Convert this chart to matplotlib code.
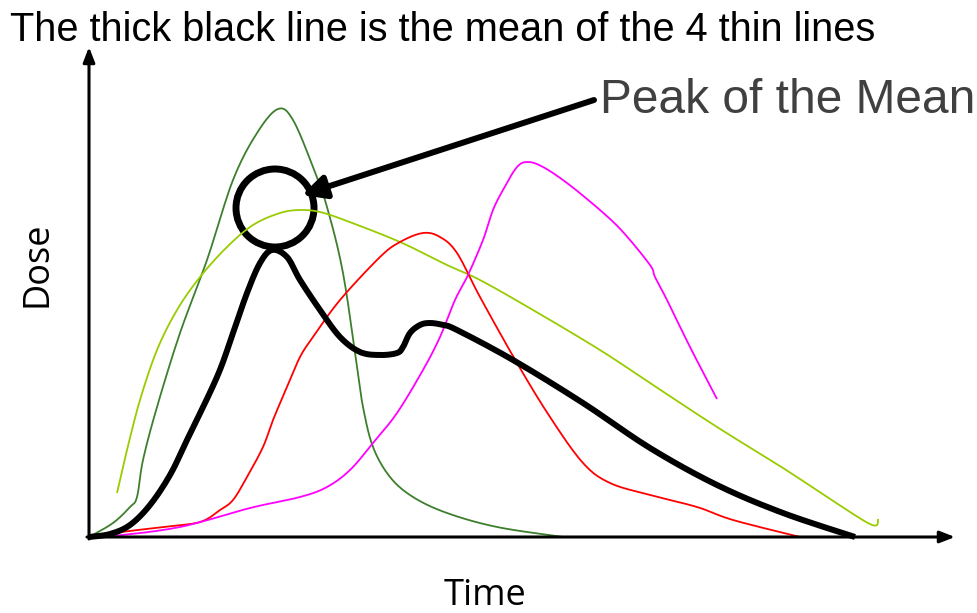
import numpy as np
import matplotlib
matplotlib.use("Agg")
import matplotlib.pyplot as plt
from matplotlib.patches import Circle

W, H = 978, 613

# hand-drawn traces, (x, y) in canvas pixels, y grows downward
green_x = [89, 113, 130, 137, 143, 157, 180, 207, 233, 257, 278, 293, 313, 327, 343, 357,
           363, 373, 390, 413, 447, 497, 563]
green_y = [537, 523, 507, 497, 460, 407, 333, 260, 180, 133, 109, 120, 167, 207, 273, 367,
           407, 447, 477, 497, 513, 527, 537]

lime_x = [117, 127, 140, 157, 177, 200, 227, 253, 280, 300, 320, 347, 400, 447, 480, 533,
          600, 650, 717, 783, 850, 870, 877, 878]
lime_y = [493, 450, 400, 350, 310, 277, 247, 225, 213, 210, 212, 221, 242, 265, 280, 310,
          350, 383, 427, 468, 512, 524, 525, 519]

red_x = [89, 113, 163, 200, 220, 233, 247, 263, 273, 287, 300, 313, 340, 380, 400, 423, 440,
         457, 480, 517, 550, 583, 610, 650, 697, 733, 800]
red_y = [537, 533, 527, 522, 510, 500, 477, 447, 420, 387, 357, 337, 300, 257, 242, 233, 237,
         253, 297, 363, 417, 463, 483, 495, 507, 520, 537]

pink_x = [89, 113, 180, 250, 300, 327, 350, 373, 397, 423, 440, 455, 468, 483, 493, 503,
          517, 528, 543, 567, 600, 623, 650, 655, 667, 690, 717]
pink_y = [537, 536, 527, 508, 497, 487, 470, 443, 413, 370, 337, 300, 275, 240, 210, 190,
          167, 162, 167, 183, 210, 232, 265, 277, 300, 347, 399]

mean_x = [89, 110, 130, 150, 170, 187, 217, 233, 247, 260, 272, 287, 300, 320, 340, 360, 380,
          397, 403, 410, 420, 430, 443, 457, 513, 583, 650, 717, 783, 855]
mean_y = [537, 534, 525, 505, 475, 440, 377, 333, 293, 263, 250, 257, 280, 310, 337, 352, 355,
          353, 347, 333, 325, 323, 325, 330, 360, 403, 448, 485, 513, 537]

title = "The thick black line is the mean of the 4 thin lines"
peak_label = "Peak of the Mean"


def smooth(xs, ys, steps=12):
    # Catmull-Rom pass through the traced points
    p = np.column_stack([xs, ys]).astype(float)
    p = np.vstack([p[0], p, p[-1]])
    t = np.linspace(0, 1, steps, endpoint=False)[:, None]
    out = []
    for i in range(1, len(p) - 2):
        p0, p1, p2, p3 = p[i - 1], p[i], p[i + 1], p[i + 2]
        seg = 0.5 * ((2 * p1) + (-p0 + p2) * t + (2 * p0 - 5 * p1 + 4 * p2 - p3) * t ** 2
                     + (-p0 + 3 * p1 - 3 * p2 + p3) * t ** 3)
        out.append(seg)
    out.append(p[-2][None, :])
    out = np.vstack(out)
    return out[:, 0], out[:, 1]


fig = plt.figure(figsize=(W / 100, H / 100), dpi=100)
ax = fig.add_axes([0, 0, 1, 1])
ax.set_xlim(0, W)
ax.set_ylim(H, 0)
ax.axis("off")

# axes with arrow heads
ax.annotate("", xy=(89, 47), xytext=(89, 539),
            arrowprops=dict(arrowstyle="-|>,head_length=0.9,head_width=0.35", lw=2.2, color="black",
                            shrinkA=0, shrinkB=0))
ax.annotate("", xy=(955, 537), xytext=(87, 537),
            arrowprops=dict(arrowstyle="-|>,head_length=0.9,head_width=0.35", lw=2.2, color="black",
                            shrinkA=0, shrinkB=0))

for xs, ys, c in [(green_x, green_y, "#3d7f2d"), (lime_x, lime_y, "#99cc00"),
                  (red_x, red_y, "#ff0000"), (pink_x, pink_y, "#ff00ff")]:
    sx, sy = smooth(xs, ys)
    ax.plot(sx, sy, color=c, lw=1.3, solid_capstyle="butt")

sx, sy = smooth(mean_x, mean_y)
ax.plot(sx, sy, color="black", lw=4.3, solid_capstyle="butt", solid_joinstyle="round")

ax.add_patch(Circle((275, 208), 39, fill=False, lw=5, ec="black"))

ax.annotate("", xy=(302, 195), xytext=(594, 100),
            arrowprops=dict(arrowstyle="-|>,head_length=1.4,head_width=0.7", lw=4.3, color="black",
                            shrinkA=0, shrinkB=0))

ax.text(10, 41, title, fontsize=28.6, family="Liberation Sans", color="black", va="baseline")
ax.text(600, 113, peak_label, fontsize=34.5, family="Liberation Sans", color="#404040", va="baseline")
ax.text(38, 264, "Dose", fontsize=26, family="Open Sans", rotation=90, ha="center", va="center")
ax.text(485, 596, "Time", fontsize=26, family="Open Sans", ha="center", va="center")

fig.savefig("out.png", dpi=100)
